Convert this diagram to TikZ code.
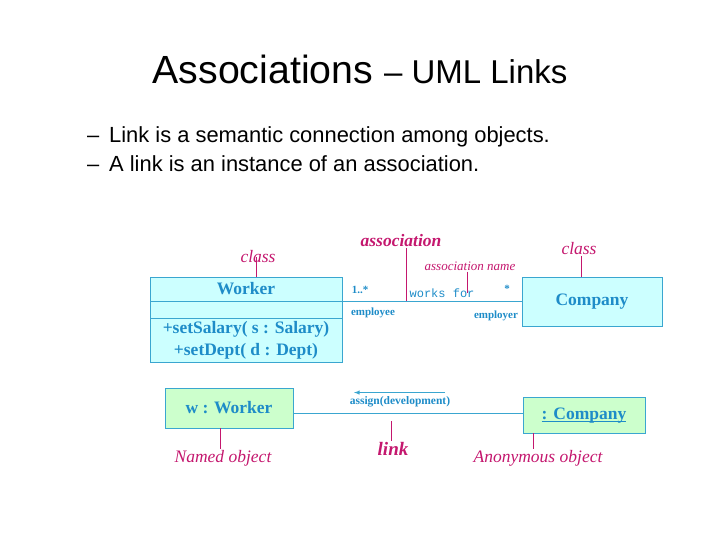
\documentclass[tikz,border=0pt]{standalone}
\usepackage{fontspec}
\setmainfont{Liberation Serif}
\setsansfont{Liberation Sans}
\setmonofont{Liberation Mono}
\usepackage{xcolor}
\usepackage{tikz}
\usetikzlibrary{positioning}

\definecolor{umlborder}{HTML}{3AA6D0}
\definecolor{umlfill}{HTML}{CCFFFF}
\definecolor{objfill}{HTML}{CCFFCC}
\definecolor{umltext}{HTML}{1E8CC8}
\definecolor{notecol}{HTML}{C4176E}

\begin{document}
\begin{tikzpicture}[x=1pt,y=-1pt,
    classbox/.style={draw=umlborder, fill=umlfill, line width=0.8pt, outer sep=0pt, inner sep=1pt,
                     text=umltext, font=\fontsize{17.5}{22}\selectfont\bfseries, align=center},
    objbox/.style={classbox, fill=objfill},
    assocline/.style={draw=umlborder, line width=0.9pt},
    endlabel/.style={text=umltext, inner sep=1pt, font=\fontsize{11}{13}\selectfont\bfseries},
    note/.style={text=notecol, inner sep=1pt, font=\fontsize{17.5}{20}\selectfont\itshape},
    callout/.style={draw=notecol, line width=1pt}]
    \useasboundingbox (0,0) rectangle (720,540);

    \node[anchor=base, font=\sffamily] (title) at (360,84)
         {\fontsize{39.3}{42}\selectfont Associations \fontsize{33}{42}\selectfont -- UML Links};
    \node[anchor=base west, inner sep=0pt, font=\sffamily\fontsize{21.9}{24}\selectfont] (bullet1) at (87,143)
         {\makebox[22pt][l]{--}Link is a semantic connection among objects.};
    \node[anchor=base west, inner sep=0pt, font=\sffamily\fontsize{21.9}{24}\selectfont] (bullet2) at (87,172)
         {\makebox[22pt][l]{--}A link is an instance of an association.};

    \node[classbox, minimum width=192pt, minimum height=24pt] (workername) at (246,289) {Worker};
    \node[classbox, minimum width=192pt, minimum height=17pt, below=0pt of workername] (workerattr) {};
    \node[classbox, minimum width=192pt, minimum height=44pt, below=0pt of workerattr] (workerops)
         {+setSalary( s : Salary)\\+setDept( d : Dept)};
    \node[classbox, minimum width=140pt, minimum height=49pt] (company) at (592,301.5) {Company};

    \draw[assocline] (workerattr.north east) -- (workerattr.north east -| company.west);
    \node[endlabel] (multleft) at (360,290) {1..*};
    \node[endlabel] (roleleft) at (373,313) {employee};
    \node[text=umltext, inner sep=1pt, font=\ttfamily\fontsize{12}{14}\selectfont] (worksfor) at (442,293) {works for};
    \node[endlabel] (multright) at (507,289) {*};
    \node[endlabel] (roleright) at (496,316) {employer};

    \node[note] (classleft) at (258,257) {class};
    \node[note] (classright) at (579,249) {class};
    \node[note, font=\fontsize{17.5}{20}\selectfont\bfseries\itshape] (assoclbl) at (401,241) {association};
    \node[note, font=\fontsize{13}{15}\selectfont\itshape] (assocname) at (470,266) {association name};
    \draw[callout] ([xshift=-2pt]classleft.center) -- ([xshift=-2pt]classleft.center |- workername.north);
    \draw[callout] ([xshift=2pt]classright.south) -- ([xshift=2pt]classright.south |- company.north);
    \draw[callout] ([xshift=5pt]assoclbl.south) -- ([xshift=5pt]assoclbl.south |- workerattr.north);
    \draw[callout] ([xshift=-3pt]assocname.south) -- ([xshift=-3pt]assocname.south |- worksfor.center);

    \node[objbox, minimum width=128pt, minimum height=40pt] (wworker) at (229,408) {w : Worker};
    \node[objbox, minimum width=122pt, minimum height=36pt] (anoncompany) at (584,415) {\underbar{: Company}};
    \draw[assocline] ([yshift=2pt]anoncompany.west) -- ([yshift=2pt]anoncompany.west -| wworker.east);
    \node[endlabel, font=\fontsize{11.5}{13}\selectfont\bfseries] (msg) at (400,402) {assign(development)};
    \draw[assocline, -latex] ([xshift=45pt,yshift=3pt]msg.north) -- ([xshift=-46pt,yshift=3pt]msg.north);

    \node[note, font=\fontsize{19}{21}\selectfont\bfseries\itshape] (linklbl) at (393,449) {link};
    \node[note] (namedlbl) at (223,458) {Named object};
    \node[note] (anonlbl) at (538,458) {Anonymous object};
    \draw[callout] ([xshift=-2pt]linklbl.north) -- ++(0,-20);
    \draw[callout] ([xshift=-3pt]namedlbl.north) -- ([xshift=-3pt]namedlbl.north |- wworker.south);
    \draw[callout] ([xshift=-5pt]anonlbl.north) -- ([xshift=-5pt]anonlbl.north |- anoncompany.south);
\end{tikzpicture}
\end{document}
